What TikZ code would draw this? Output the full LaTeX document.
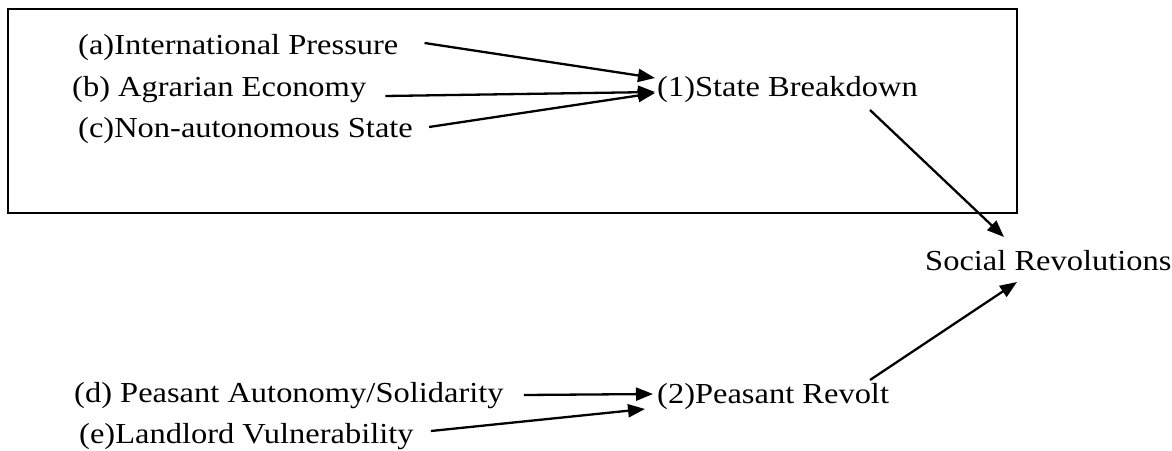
\documentclass[tikz,border=0pt]{standalone}
\usepackage{fontspec}
\setmainfont{Liberation Serif}[FakeStretch=1.12]
\usetikzlibrary{arrows.meta}
\begin{document}
\begin{tikzpicture}[x=1pt,y=-1pt,
  label/.style={inner sep=0pt,anchor=base west,font=\fontsize{29}{34}\selectfont},
  arr/.style={line width=2.3pt,-{Triangle[length=17pt,width=13pt]}},
  frame/.style={line width=2.3pt}]
\useasboundingbox (0,0) rectangle (1172,450);

% framed group of state-breakdown causes
\draw[frame] (8,9) rectangle (1017,213);

% cause labels
\node[label] (a) at (78,54)  {(a)International Pressure};
\node[label] (b) at (72,96)  {(b) Agrarian Economy};
\node[label] (c) at (78,137) {(c)Non-autonomous State};
\node[label] (d) at (74,402) {(d) Peasant Autonomy/Solidarity};
\node[label] (e) at (79,443) {(e)Landlord Vulnerability};

% intermediate and final outcomes
\node[label] (sb) at (657,96)  {(1)State Breakdown};
\node[label] (pr) at (657,403) {(2)Peasant Revolt};
\node[label] (sr) at (925,270) {Social Revolutions};

% causal arrows
\draw[arr] ([xshift=26pt,yshift=11pt]a.base east) -- ([xshift=-2pt,yshift=18pt]sb.base west);
\draw[arr] ([xshift=19pt,yshift=0pt]b.base east)  -- ([xshift=-2pt,yshift=4pt]sb.base west);
\draw[arr] ([xshift=16pt,yshift=10pt]c.base east) -- ([xshift=-2pt,yshift=3pt]sb.base west);
\draw[arr] ([xshift=20pt,yshift=7pt]d.base east)  -- ([xshift=-4pt,yshift=9pt]pr.base west);
\draw[arr] ([xshift=17pt,yshift=12pt]e.base east) -- ([xshift=-12pt,yshift=-6pt]pr.base west);
\draw[arr] ([xshift=213pt,yshift=-14pt]sb.base west) -- ([xshift=79pt,yshift=33pt]sr.base west);
\draw[arr] ([xshift=213pt,yshift=23pt]pr.base west) -- ([xshift=92pt,yshift=-12pt]sr.base west);
\end{tikzpicture}
\end{document}
